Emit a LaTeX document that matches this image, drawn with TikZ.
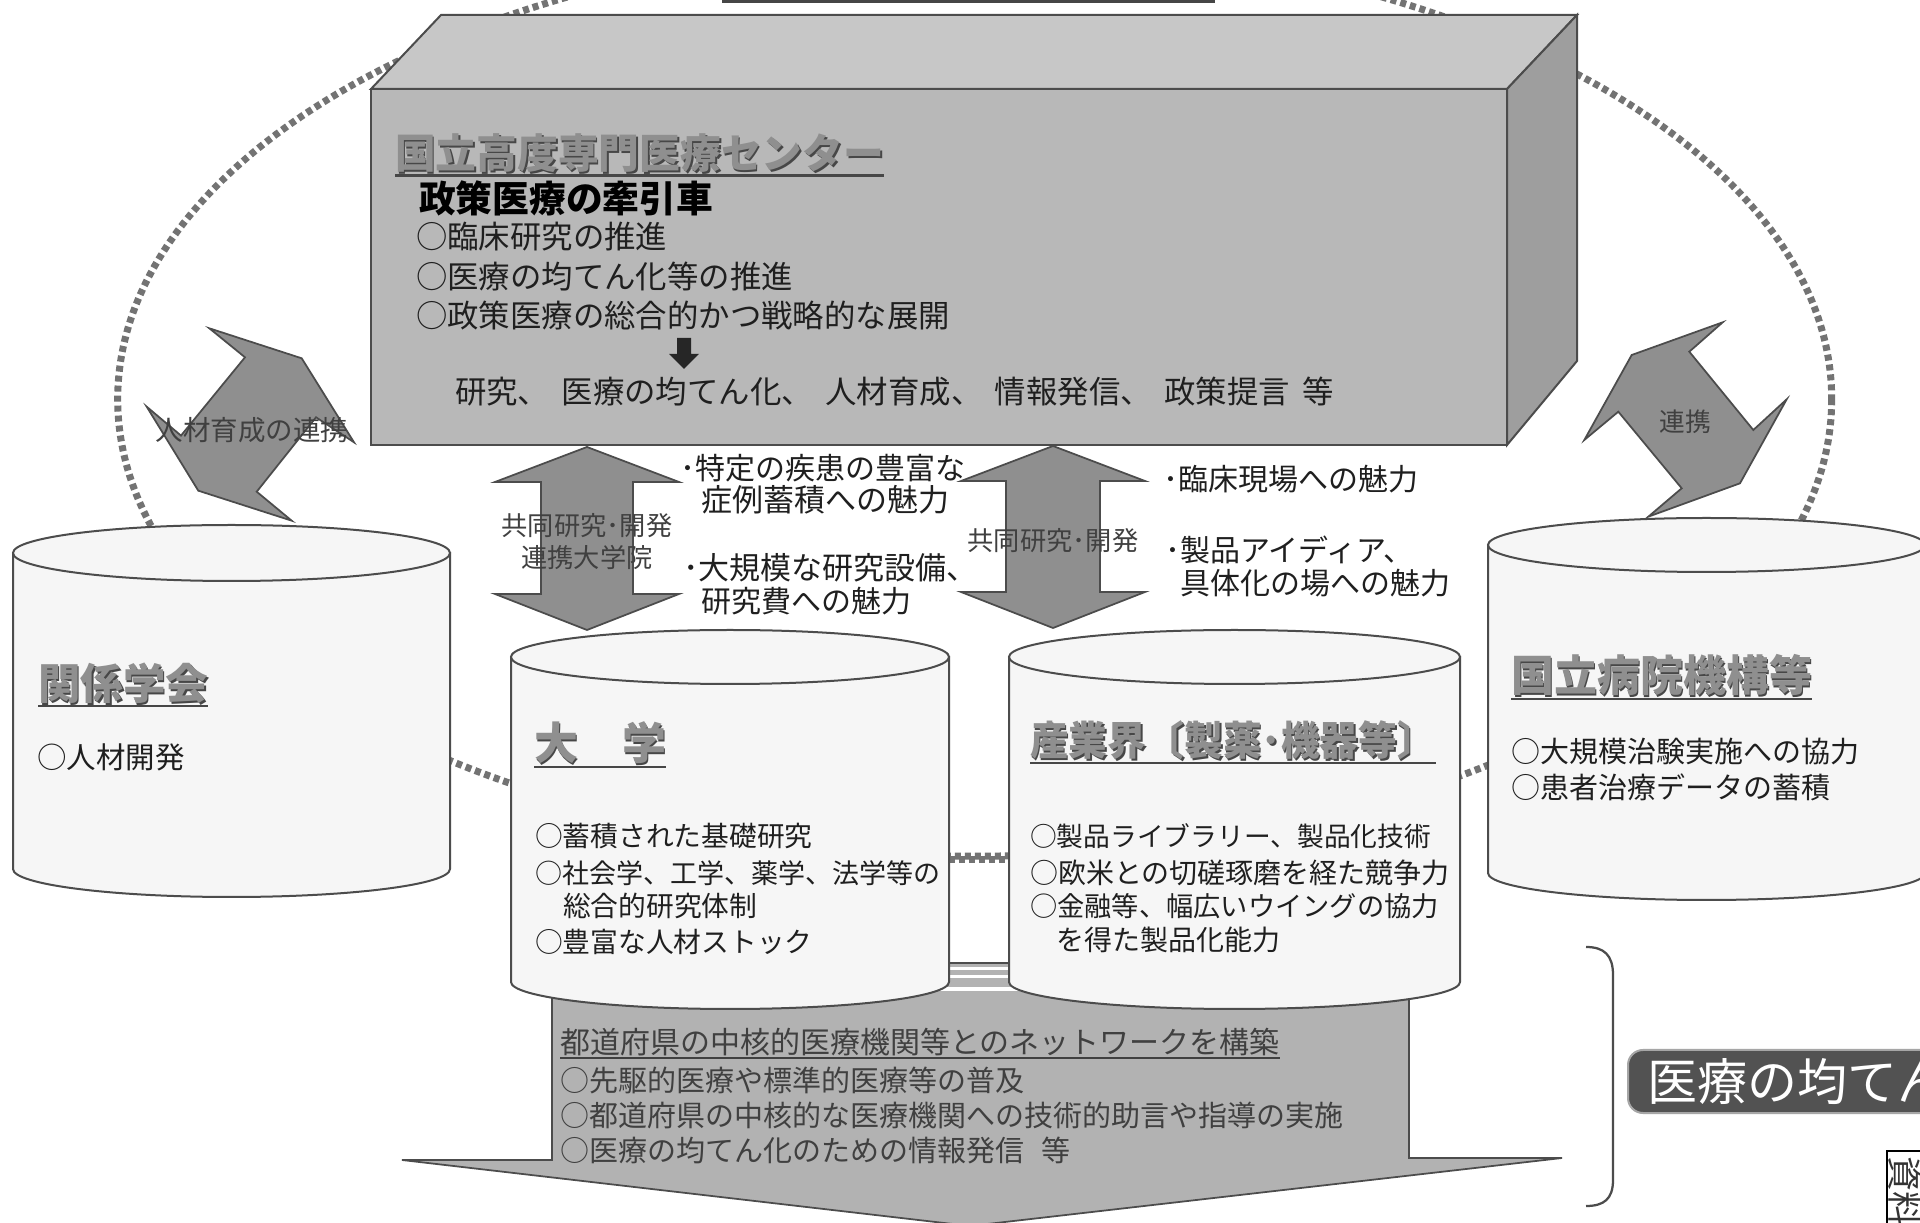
\documentclass[tikz,border=0pt]{standalone}
\usepackage{fontspec}
\setmainfont{Noto Sans CJK JP}
\definecolor{frontc}{gray}{0.72}
\definecolor{topc}{gray}{0.78}
\definecolor{sidec}{gray}{0.62}
\definecolor{edgec}{gray}{0.30}
\definecolor{arrc}{gray}{0.56}
\definecolor{bigarrc}{gray}{0.70}
\definecolor{cylc}{gray}{0.965}
\definecolor{dotc}{gray}{0.45}
\definecolor{ttlc}{gray}{0.56}
\definecolor{ttlsh}{gray}{0.28}
\definecolor{txtc}{gray}{0.12}
\definecolor{lbltc}{gray}{0.25}
\definecolor{darkbox}{gray}{0.32}
\newcommand\fs[1]{\fontsize{#1pt}{#1pt}\selectfont}
\newcommand\mycyl[5]{%
 \pgfmathsetmacro\cylcx{(#1+#2)/2}%
 \pgfmathsetmacro\cylrx{(#2-#1)/2}%
 \filldraw[cylbody] (#1,#3) -- (#1,#4) arc[start angle=180,end angle=0,x radius=\cylrx,y radius=#5] -- (#2,#3) -- cycle;
 \filldraw[cyltop] (\cylcx,#3) ellipse[x radius=\cylrx, y radius=#5];
}
\tikzset{
 every node/.style={inner sep=0pt, outer sep=0pt},
 tx/.style={anchor=west, text=txtc, font=\fs{#1}},
 ctr/.style={anchor=center, text=lbltc, font=\fs{#1}},
 ttl/.style={anchor=west, text=ttlc, font=\fs{#1}\bfseries},
 ttlshadow/.style={anchor=west, text=ttlsh, font=\fs{#1}\bfseries, xshift=0.7pt, yshift=-0.7pt},
 ttlline/.style={draw=ttlsh, line width=0.9pt},
 dotring/.style={draw=dotc, line width=2.8pt, dash pattern=on 2.4pt off 1.6pt},
 boxtop/.style={fill=topc, draw=edgec, line width=0.8pt},
 boxside/.style={fill=sidec, draw=edgec, line width=0.8pt},
 boxfront/.style={fill=frontc, draw=edgec, line width=0.8pt},
 cylbody/.style={fill=cylc, draw=edgec, line width=0.8pt},
 cyltop/.style={fill=cylc, draw=edgec, line width=0.8pt},
 dblarrow/.style={fill=arrc, draw=edgec, line width=0.7pt},
 bentarrow/.style={fill=arrc, draw=edgec, line width=0.7pt},
 bigarrow/.style={fill=bigarrc, draw=edgec, line width=0.7pt},
 bracketline/.style={draw=edgec, line width=0.9pt},
}
\begin{document}
\begin{tikzpicture}[x=0.4pt,y=-0.4pt]
\useasboundingbox (0,0) rectangle (1920,1223);
\clip (0,0) rectangle (1920,1223);
\fill[white] (0,0) rectangle (1920,1223);

% strip at top
\fill[gray!55!black] (722,-10) rectangle (1215,3);

% dotted ring
\draw[dotring] (974.7,399.2) ellipse [x radius=857, y radius=457];

% top 3D box
\filldraw[boxtop] (371,89) -- (441,15) -- (1577,15) -- (1507,89) -- cycle;
\filldraw[boxside] (1507,89) -- (1577,15) -- (1577,361) -- (1507,445) -- cycle;
\filldraw[boxfront] (371,89) rectangle (1507,445);

\node[ttlshadow=16.3] (ttlAsh) at (395,153) {国立高度専門医療センター};
\node[ttl=16.3] (ttlA) at (395,153) {国立高度専門医療センター};
\draw[ttlline] ([yshift=-1.2pt]ttlA.south west) -- ([yshift=-1.2pt]ttlA.south east);
\node[anchor=west, text=black, font=\fs{14.7}\bfseries] (subA) at (419,198) {政策医療の牽引車};
\node[tx=12.56] (bA1) at (416,237) {○臨床研究の推進};
\node[tx=12.56] (bA2) at (416,277) {○医療の均てん化等の推進};
\node[tx=12.56] (bA3) at (416,316) {○政策医療の総合的かつ戦略的な展開};
\fill[black!85] (677,338) -- (691,338) -- (691,354) -- (699,354) -- (684,369) -- (669,354) -- (677,354) -- cycle;
\node[tx=12.56] (sumA) at (455,392) {研究、\hspace{5pt}医療の均てん化、\hspace{5pt}人材育成、\hspace{5pt}情報発信、\hspace{5pt}政策提言\hspace{5pt}等};

% bent double arrows
\filldraw[bentarrow] (209.3,328.3) -- (245,357.3) -- (181,435.6) -- (146.7,406.7) -- (198.3,490.7) -- (291.7,520.7) -- (256.7,491.7) -- (316,417.3) -- (354,442.3) -- (301.7,358.3) -- cycle;
\node[ctr=11] (lblL) at (252,430) {人材育成の連携};
\filldraw[bentarrow] (1722.7,322.3) -- (1689.3,351.7) -- (1753.3,430) -- (1786.7,399.3) -- (1740,483.3) -- (1648.3,516.7) -- (1681.7,488.3) -- (1618.3,411.7) -- (1584.3,440) -- (1631.7,355) -- cycle;
\node[ctr=10.3] (lblR) at (1685,422) {連携};

% vertical double arrows
\filldraw[dblarrow] (587,447) -- (679,482) -- (633,482) -- (633,594) -- (679,594) -- (587,630) -- (495,594) -- (541,594) -- (541,482) -- (495,482) -- cycle;
\node[ctr=10.5] (a1l1) at (587,526) {共同研究･開発};
\node[ctr=10.5] (a1l2) at (587,558) {連携大学院};
\filldraw[dblarrow] (1053,446) -- (1145,481) -- (1100,481) -- (1100,592) -- (1145,592) -- (1053,628) -- (961,592) -- (1006,592) -- (1006,481) -- (961,481) -- cycle;
\node[ctr=10.5] (a2l) at (1053,541) {共同研究･開発};

% side texts
\node[tx=12] (s1a) at (680,468) {･特定の疾患の豊富な};
\node[tx=12.4] (s1b) at (701,500) {症例蓄積への魅力};
\node[tx=12.4] (s2a) at (683,568) {･大規模な研究設備、};
\node[tx=12] (s2b) at (701,601) {研究費への魅力};
\node[tx=12] (s3) at (1163,479) {･臨床現場への魅力};
\node[tx=12] (s4a) at (1165,550) {･製品アイディア、};
\node[tx=12] (s4b) at (1180,583) {具体化の場への魅力};

% big bottom arrow
\filldraw[bigarrow] (552,963) -- (1409,963) -- (1409,1158) -- (1562,1158) -- (970,1226) -- (402,1160) -- (552,1160) -- cycle;
\draw[white, line width=1.2pt] (940,969) -- (1020,969);
\draw[white, line width=1.2pt] (940,977) -- (1020,977);
\draw[white, line width=1.4pt] (940,989) -- (1020,989);

% dotted link between university and industry
\draw[dotring] (949,860) -- (1009,860);

% cylinders
\mycyl{13}{450}{553}{869}{28}
\mycyl{1488}{1925}{545}{873}{27}
\mycyl{511}{949}{657}{982}{27}
\mycyl{1009}{1460}{657}{982}{27}

% cylinder 1
\node[ttlshadow=17] (c1tsh) at (38,683) {関係学会};
\node[ttl=17] (c1t) at (38,683) {関係学会};
\draw[ttlline] ([yshift=-1.2pt]c1t.south west) -- ([yshift=-1.2pt]c1t.south east);
\node[tx=11.8] (c1b) at (37,757) {○人材開発};

% cylinder 2
\node[ttlshadow=17.6] (c2tsh) at (534,743) {大　学};
\node[ttl=17.6] (c2t) at (534,743) {大　学};
\draw[ttlline] ([yshift=-1.2pt]c2t.south west) -- ([yshift=-1.2pt]c2t.south east);
\node[tx=11.1] (c2b1) at (535,836) {○蓄積された基礎研究};
\node[tx=10.8] (c2b2) at (535,873) {○社会学、工学、薬学、法学等の};
\node[tx=11.1] (c2b3) at (563,906) {総合的研究体制};
\node[tx=11.1] (c2b4) at (535,942) {○豊富な人材ストック};

% cylinder 3
\node[ttlshadow=16.1] (c3tsh) at (1030,740) {\scalebox{0.96}[1]{産業界〔製薬･機器等〕}};
\node[ttl=16.1] (c3t) at (1030,740) {\scalebox{0.96}[1]{産業界〔製薬･機器等〕}};
\draw[ttlline] ([yshift=-1.2pt]c3t.south west) -- ([yshift=-1.2pt]c3t.south east);
\node[tx=10.7] (c3b1) at (1030,836) {○製品ライブラリー、製品化技術};
\node[tx=11.2] (c3b2) at (1030,873) {○欧米との切磋琢磨を経た競争力};
\node[tx=10.9] (c3b3) at (1030,906) {○金融等、幅広いウイングの協力};
\node[tx=11.2] (c3b4) at (1056,940) {を得た製品化能力};

% cylinder 4
\node[ttlshadow=17.2] (c4tsh) at (1511,675) {国立病院機構等};
\node[ttl=17.2] (c4t) at (1511,675) {国立病院機構等};
\draw[ttlline] ([yshift=-1.2pt]c4t.south west) -- ([yshift=-1.2pt]c4t.south east);
\node[tx=11.6] (c4b1) at (1511,752) {○大規模治験実施への協力};
\node[tx=11.6] (c4b2) at (1511,787) {○患者治療データの蓄積};

% texts in big arrow
\node[tx=12, text=lbltc] (bt) at (560,1042) {都道府県の中核的医療機関等とのネットワークを構築};
\draw[draw=lbltc, line width=0.8pt] ([yshift=-1pt]bt.south west) -- ([yshift=-1pt]bt.south east);
\node[tx=11.6, text=lbltc] (bb1) at (560,1080) {○先駆的医療や標準的医療等の普及};
\node[tx=11.6, text=lbltc] (bb2) at (560,1115) {○都道府県の中核的な医療機関への技術的助言や指導の実施};
\node[tx=11.6, text=lbltc] (bb3) at (560,1150) {○医療の均てん化のための情報発信\hspace{7pt}等};

% bracket
\draw[bracketline] (1586,947) .. controls (1604,947) and (1613,955) .. (1613,975) -- (1613,1180) .. controls (1613,1199) and (1604,1206) .. (1586,1206);

% dark label box
\filldraw[fill=darkbox, draw=gray!70, line width=0.8pt, rounded corners=6pt] (1628,1050) rectangle (1990,1113);
\node[anchor=west, text=white, font=\fs{20}] (eqA) at (1647,1082) {医療の均てん};

% small box bottom right
\draw[black, line width=0.7pt] (1887,1151) rectangle (1940,1260);
\node[anchor=west, rotate=-90, text=black!80, font=\fs{14}] (shiryo) at (1905,1156) {資料};
\end{tikzpicture}
\end{document}
